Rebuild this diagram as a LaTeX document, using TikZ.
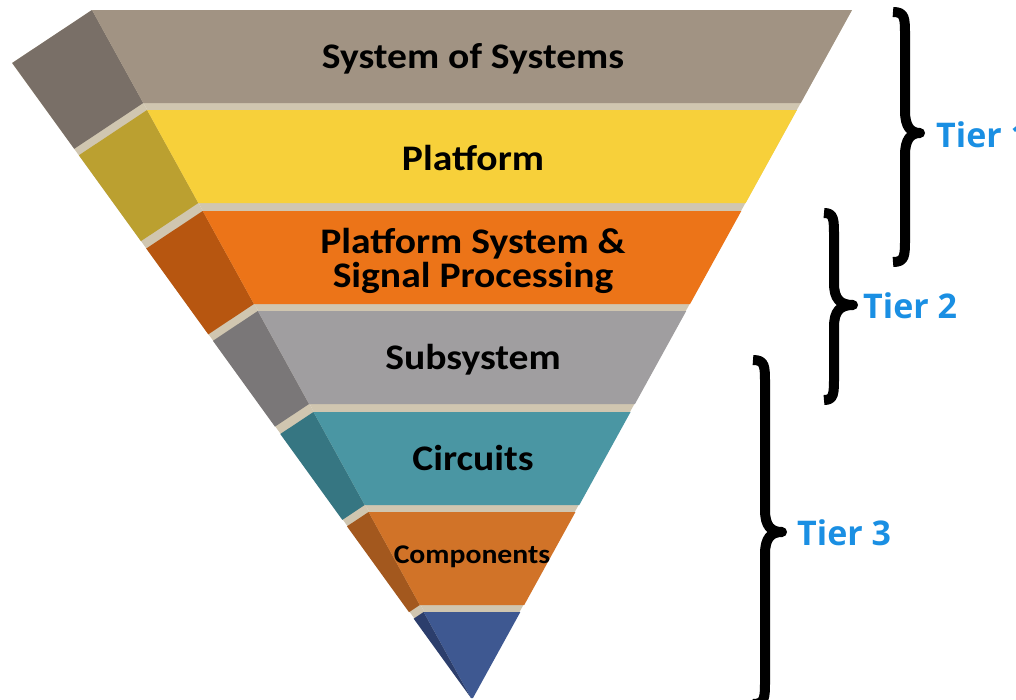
\documentclass[tikz,border=0pt]{standalone}
\usepackage{fontspec}
\newfontfamily\bandfont[FakeStretch=1.1]{Carlito}
\newfontfamily\tierfont{Open Sans}
\definecolor{sepbeige}{RGB}{208,198,176}
\definecolor{sosF}{RGB}{161,147,131}
\definecolor{sosS}{RGB}{121,111,103}
\definecolor{platF}{RGB}{247,208,58}
\definecolor{platS}{RGB}{187,160,48}
\definecolor{pspF}{RGB}{236,116,24}
\definecolor{pspS}{RGB}{183,86,16}
\definecolor{subF}{RGB}{160,158,160}
\definecolor{subS}{RGB}{122,119,120}
\definecolor{cirF}{RGB}{74,150,163}
\definecolor{cirS}{RGB}{54,118,130}
\definecolor{comF}{RGB}{209,115,40}
\definecolor{comS}{RGB}{163,88,30}
\definecolor{tipF}{RGB}{62,88,145}
\definecolor{tipS}{RGB}{44,62,108}
\definecolor{tierblue}{RGB}{26,143,227}
\newcommand\bandshape[4]{%
 \pgfmathsetmacro\xlt{92+(#1-10)*0.5509}%
 \pgfmathsetmacro\xrt{852-(#1-10)*0.5509}%
 \pgfmathsetmacro\xlb{92+(#2-10)*0.5509}%
 \pgfmathsetmacro\xrb{852-(#2-10)*0.5509}%
 \pgfmathsetmacro\sxt{\xlt-(698-#1)*0.116}%
 \pgfmathsetmacro\syt{#1+(698-#1)*0.077}%
 \pgfmathsetmacro\sxb{\xlb-(698-#2)*0.116}%
 \pgfmathsetmacro\syb{#2+(698-#2)*0.077}%
 \fill[#4] (\xlt,#1) -- (\sxt,\syt) -- (\sxb,\syb) -- (\xlb,#2) -- cycle;
 \fill[#3] (\xlt,#1) -- (\xrt,#1) -- (\xrb,#2) -- (\xlb,#2) -- cycle;
}
\newcommand\tierbrace[6]{% xend, xstroke, xtip, ytop, ymid, ybot
 \draw[bracestyle] (#1,#4) .. controls ({#2},{#4}) and ({#2},{#4+6}) .. ({#2},{#4+24})
   -- ({#2},{#5-22}) .. controls ({#2},{#5-6}) and ({#2+6},{#5}) .. ({#3},{#5})
   .. controls ({#2+6},{#5}) and ({#2},{#5+6}) .. ({#2},{#5+22})
   -- ({#2},{#6-24}) .. controls ({#2},{#6-6}) and ({#2},{#6}) .. ({#1},{#6});
}
\tikzset{
 bandtext/.style={anchor=base, text=black, font=\bandfont\bfseries\fontsize{36}{34}\selectfont, align=center, inner sep=0pt},
 tiertext/.style={anchor=base west, text=tierblue, font=\tierfont\bfseries\fontsize{34}{40}\selectfont, inner sep=0pt},
 bracestyle/.style={line width=10pt, line cap=butt, line join=round, draw=black},
}
\begin{document}
\begin{tikzpicture}[x=1pt,y=-1pt]
\clip (0,0) rectangle (1016,699);
\fill[white] (0,0) rectangle (1016,699);
% separator background
\fill[sepbeige] (92,10) -- (852,10) -- (472,698) -- cycle;
\fill[sepbeige] (92,10) -- (12,63) -- (472,698) -- cycle;
% bands
\bandshape{10}{103}{sosF}{sosS}
\bandshape{110}{203}{platF}{platS}
\bandshape{211}{304}{pspF}{pspS}
\bandshape{311}{404}{subF}{subS}
\bandshape{412}{505}{cirF}{cirS}
\bandshape{512}{605}{comF}{comS}
\bandshape{612}{698}{tipF}{tipS}
% labels
\node[bandtext] (sos) at (473,68) {System of Systems};
\node[bandtext] (plat) at (473,170) {Platform};
\node[bandtext] (psp) at (473,287) {Platform System \&\\Signal Processing};
\node[bandtext] (sub) at (473,369) {Subsystem};
\node[bandtext] (cir) at (473,470) {Circuits};
\node[bandtext, font=\bandfont\bfseries\fontsize{27}{30}\selectfont] (com) at (472,563) {Components};
% braces
\tierbrace{893}{905}{920}{12}{133}{262}
\tierbrace{824}{834}{853}{213}{305}{400}
\tierbrace{753}{765}{782}{360}{532}{704}
% tier labels
\node[tiertext] (t1) at (936,147) {Tier 1};
\node[tiertext] (t2) at (863,318) {Tier 2};
\node[tiertext] (t3) at (797,545) {Tier 3};
\end{tikzpicture}
\end{document}
